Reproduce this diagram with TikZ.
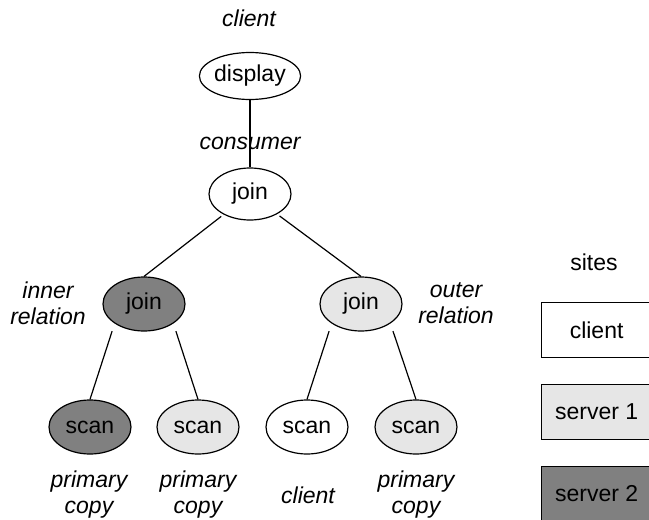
\documentclass[tikz,border=0pt]{standalone}
\usepackage{fontspec}
\setmainfont{Liberation Sans}
\usetikzlibrary{shapes.geometric}
\definecolor{darkfill}{RGB}{128,128,128}
\definecolor{lightfill}{RGB}{230,230,230}
\begin{document}
\begin{tikzpicture}[x=1pt,y=-1pt,
  every node/.style={font=\fontsize{23}{26}\selectfont},
  op/.style={ellipse,draw,line width=1.2pt,inner sep=0pt,minimum width=82pt,minimum height=54pt},
  lbl/.style={font=\fontsize{23}{26}\selectfont\itshape,align=center},
  sitebox/.style={rectangle,draw,line width=1.2pt,minimum width=110pt,minimum height=55pt,anchor=west,inner sep=0pt},
  edge/.style={line width=1.2pt}]
\useasboundingbox (0,0) rectangle (649,520);
\clip (0,0) rectangle (649,520);
% operators
\node[op,minimum height=47pt] (d) at (250,76) {display};
\node[op,minimum height=52pt] (tj) at (250,194) {join};
\node[op,fill=darkfill] (jl) at (144,304) {join};
\node[op,fill=lightfill] (jr) at (361,304) {join};
\node[op,fill=darkfill] (s1) at (90,427) {scan};
\node[op,fill=lightfill] (s2) at (198,427) {scan};
\node[op] (s3) at (307,427) {scan};
\node[op,fill=lightfill] (s4) at (416,427) {scan};
% connectors
\draw[edge] (d) -- (tj);
\draw[edge,shorten <=3pt] (tj) -- (jl.north);
\draw[edge,shorten <=3pt] (tj) -- (jr.north);
\draw[edge,shorten <=8pt] (jl.south west) -- (s1.north);
\draw[edge,shorten <=8pt] (jl.south east) -- (s2.north);
\draw[edge,shorten <=8pt] (jr.south west) -- (s3.north);
\draw[edge,shorten <=8pt] (jr.south east) -- (s4.north);
% labels
\node[lbl] (lclient) at (249,18) {client};
\node[lbl] (lcons) at (250,143) {consumer};
\node[lbl] (linner) at (48,303) {inner\\relation};
\node[lbl] (louter) at (456,303) {outer\\relation};
\node[lbl] (lp1) at (89,495) {primary\\copy};
\node[lbl] (lp2) at (198,495) {primary\\copy};
\node[lbl] (lc3) at (308,495) {client};
\node[lbl] (lp4) at (416,495) {primary\\copy};
% legend
\node (sites) at (594,262) {sites};
\node[sitebox] (bc) at (541,330) {client};
\node[sitebox,fill=lightfill] (b1) at (541,412) {server 1};
\node[sitebox,fill=darkfill] (b2) at (541,494) {server 2};
\end{tikzpicture}
\end{document}
